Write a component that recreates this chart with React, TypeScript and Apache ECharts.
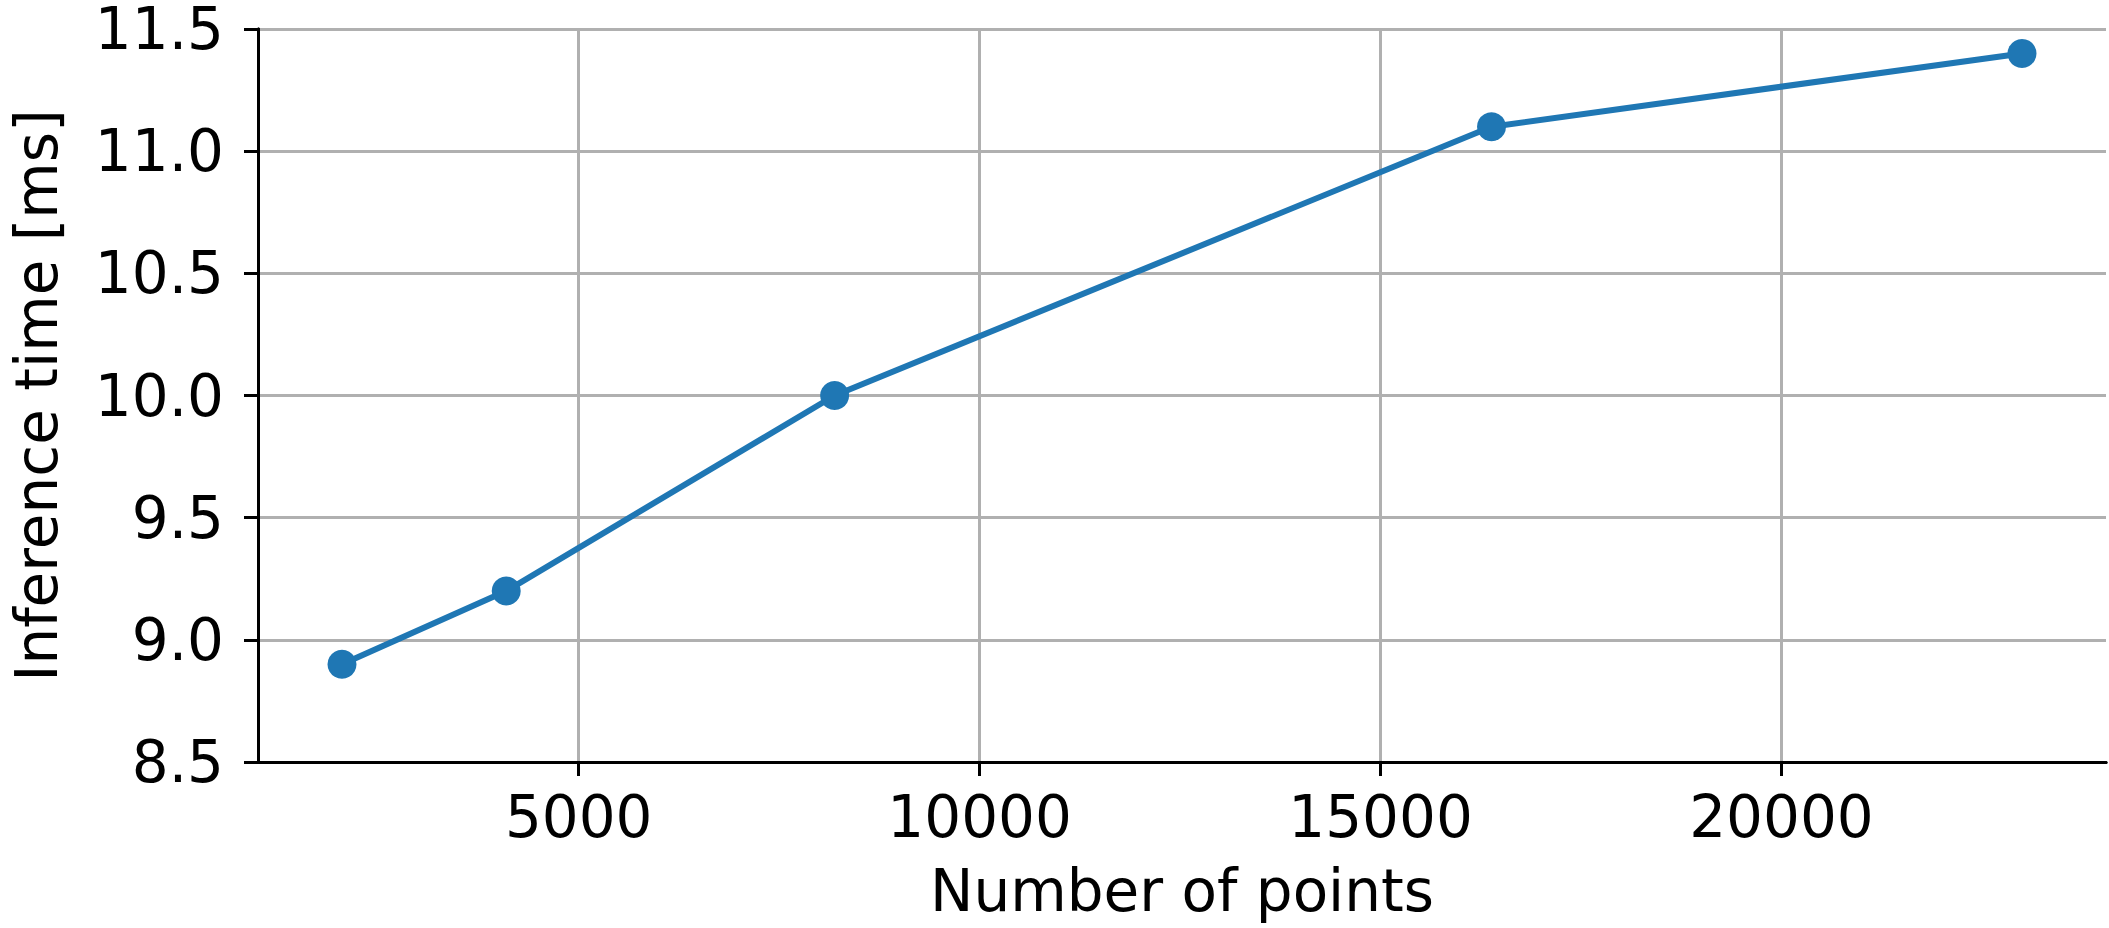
import React, { useEffect, useRef } from "react";
import * as echarts from "echarts";

const xValues = [2048, 4096, 8192, 16384, 23000];
const yValues = [8.9, 9.2, 10.0, 11.1, 11.4];
const xTicks = [5000, 10000, 15000, 20000];
const xTitle = "Number of points";
const yTitle = "Inference time [ms]";

const FONT = "DejaVu Sans";

export default function App() {
  const ref = useRef<HTMLDivElement>(null);
  useEffect(() => {
    if (!ref.current) return;
    const chart = echarts.init(ref.current, undefined, { renderer: "svg" });
    const xMin = Math.min(...xValues);
    const xMax = Math.max(...xValues);
    const pad = (xMax - xMin) * 0.05;
    const blackLine = { show: true, lineStyle: { color: "#000", width: 3 } };
    chart.setOption({
      animation: false,
      backgroundColor: "#fff",
      grid: { left: 246, top: 23, width: 1860, height: 739, containLabel: false },
      xAxis: [
        {
          type: "value",
          min: xMin - pad,
          max: xMax + pad,
          name: xTitle,
          nameLocation: "middle",
          nameGap: 100,
          nameTextStyle: { fontFamily: FONT, fontSize: 58, color: "#000" },
          axisLine: { ...blackLine, onZero: false },
          axisTick: { show: true, length: 14, lineStyle: { color: "#000", width: 3 }, customValues: xTicks },
          axisLabel: {
            customValues: xTicks,
            fontFamily: FONT,
            fontSize: 58,
            color: "#000",
            margin: 26,
            formatter: (v: number) => String(Math.round(v)),
          },
          splitLine: { show: true, lineStyle: { color: "#b0b0b0", width: 3 } },
        },
        {
          type: "value",
          position: "top",
          min: 0,
          max: 1,
          axisLine: blackLine,
          axisTick: { show: false },
          axisLabel: { show: false },
          splitLine: { show: false },
        },
      ],
      yAxis: [
        {
          type: "value",
          min: 8.5,
          max: 11.5,
          interval: 0.5,
          name: yTitle,
          nameLocation: "middle",
          nameGap: 192,
          nameTextStyle: { fontFamily: FONT, fontSize: 58, color: "#000" },
          axisLine: { ...blackLine, onZero: false },
          axisTick: { show: true, length: 14, lineStyle: { color: "#000", width: 3 } },
          axisLabel: {
            fontFamily: FONT,
            fontSize: 58,
            color: "#000",
            margin: 34,
            formatter: (v: number) => v.toFixed(1),
          },
          splitLine: { show: true, lineStyle: { color: "#b0b0b0", width: 3 } },
        },
        {
          type: "value",
          position: "right",
          min: 0,
          max: 1,
          axisLine: blackLine,
          axisTick: { show: false },
          axisLabel: { show: false },
          splitLine: { show: false },
        },
      ],
      series: [
        {
          type: "line",
          xAxisIndex: 0,
          yAxisIndex: 0,
          data: xValues.map((x, i) => [x, yValues[i]]),
          symbol: "circle",
          symbolSize: 29,
          lineStyle: { color: "#1f77b4", width: 6 },
          itemStyle: { color: "#1f77b4" },
          z: 5,
        },
      ],
    });
    return () => chart.dispose();
  }, []);
  return (
    <div
      ref={ref}
      style={{ position: "absolute", left: 0, top: 0, width: 2109, height: 928 }}
    />
  );
}
